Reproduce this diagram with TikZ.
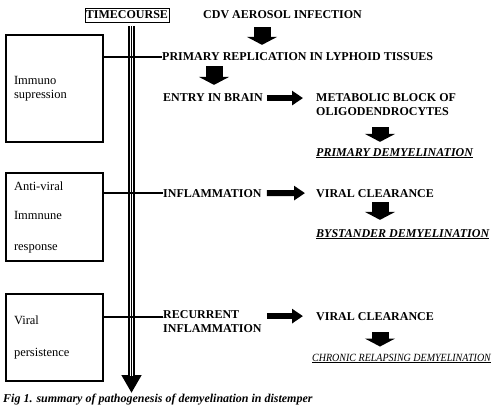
\documentclass[tikz,border=0pt]{standalone}
\usepackage{fontspec}
\setmainfont{Liberation Serif}
\usetikzlibrary{arrows.meta, positioning}

\begin{document}
\begin{tikzpicture}[x=1pt, y=-1pt, inner sep=0pt,
    font=\fontsize{12}{14}\selectfont\bfseries,
    box/.style={draw, line width=1.2pt, text width=81pt, inner xsep=8pt,
      align=left, font=\fontsize{12.5}{14.5}\selectfont},
    link/.style={line width=1.2pt},
    vblk/.style={line width=17pt, -{Triangle[length=8pt, width=30pt]}},
    hblk/.style={line width=6pt, -{Triangle[length=11pt, width=14pt]}},
    timeline/.style={line width=6.4pt, -{Triangle[length=18pt, width=19pt]},
      postaction={draw=white, line width=3.6pt, -, shorten >=17pt},
      postaction={draw=black, line width=1pt, -, shorten >=17pt}},
    emph/.style={font=\fontsize{12}{14}\selectfont\bfseries\itshape}]
    \useasboundingbox (0,0) rectangle (500,409);

    \node[draw, line width=0.8pt, inner xsep=1pt, minimum height=14pt] at (127,15) (tc) {TIMECOURSE};
    \node[anchor=base west] at (203,19) (cdv) {CDV AEROSOL INFECTION};
    \node[anchor=base west] at (162,61) (prim) {PRIMARY REPLICATION IN LYPHOID TISSUES};
    \node[anchor=base west] at (163,102) (entry) {ENTRY IN BRAIN};
    \node[anchor=west, align=left] at (316,105) (metab) {METABOLIC BLOCK OF\\OLIGODENDROCYTES};
    \node[anchor=base west, emph] at (316,156) (pdem) {\underline{PRIMARY DEMYELINATION}};
    \node[anchor=base west] at (163,197) (infl) {INFLAMMATION};
    \node[anchor=base west] at (316,197) (clear1) {VIRAL CLEARANCE};
    \node[anchor=base west, emph] at (316,237) (bdem) {\underline{BYSTANDER DEMYELINATION}};
    \node[anchor=west, align=left] at (163,322) (recur) {RECURRENT\\INFLAMMATION};
    \node[anchor=base west] at (316,320) (clear2) {VIRAL CLEARANCE};
    \node[anchor=base west, font=\fontsize{11}{13}\selectfont\itshape] at (312,361) (cdem) {\scalebox{0.91}[1]{\underline{CHRONIC RELAPSING DEMYELINATION}}};
    \node[anchor=base west, font=\fontsize{12}{14}\selectfont\bfseries\itshape] at (3,402) (caption) {Fig 1. summary of pathogenesis of demyelination in distemper};

    \node[box, minimum height=107pt] at (54.5,88.5) (immuno) {Immuno\\supression};
    \node[box, minimum height=88pt] at (54.5,217) (antiviral) {Anti-viral\\[15pt]Immnune\\[16pt]response};
    \node[box, minimum height=87pt] at (54.5,337.5) (persist) {Viral\\[18pt]persistence};

    \coordinate (tltop) at (131.5,26);
    \coordinate (tlend) at (131.5,393);
    \coordinate (rc) at ([yshift=5pt]recur.west);
    \coordinate (col1) at (262,0);
    \coordinate (col2) at (214,0);
    \coordinate (col3) at (380,0);

    \draw[timeline] (tltop) -- (tlend);
    \draw[link] (immuno.east |- prim.west) -- (prim.west);
    \draw[link] (antiviral.east |- infl.west) -- (infl.west);
    \draw[link] (persist.east |- rc) -- (rc);

    \draw[vblk, shorten <=8pt, shorten >=8pt] (cdv.south -| col1) -- (prim.north -| col1);
    \draw[vblk, shorten <=5pt, shorten >=9pt] (prim.south -| col2) -- (entry.north -| col2);
    \draw[hblk, shorten <=4pt, shorten >=13pt] (entry.east) -- (entry.east -| metab.west);
    \draw[vblk, shorten <=11pt, shorten >=6pt] (metab.south -| col3) -- (pdem.north -| col3);
    \draw[hblk, shorten <=5pt, shorten >=11pt] (infl.east) -- (clear1.west);
    \draw[vblk, shorten <=5pt, shorten >=9pt] (clear1.south -| col3) -- (bdem.north -| col3);
    \draw[hblk, shorten <=5pt, shorten >=13pt] (recur.east |- clear2.west) -- (clear2.west);
    \draw[vblk, shorten <=12pt, shorten >=7pt] (clear2.south -| col3) -- (cdem.north -| col3);
\end{tikzpicture}
\end{document}
